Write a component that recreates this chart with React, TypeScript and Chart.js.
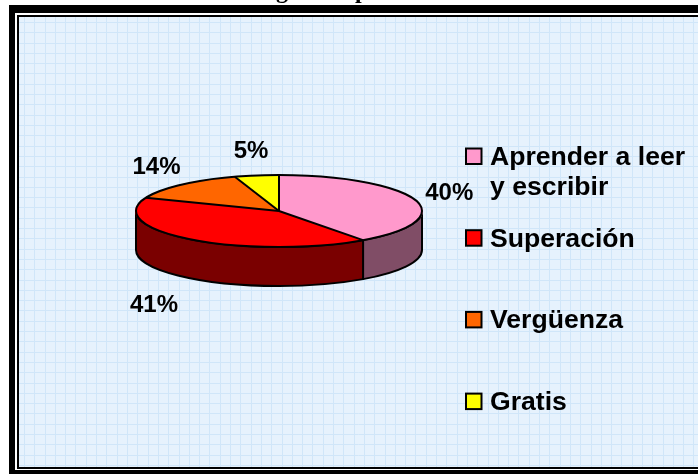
import React, { useEffect, useRef } from "react";
import { Chart, registerables } from "chart.js";

Chart.register(...registerables);

const categories = ["Aprender a leer y escribir", "Superación", "Vergüenza", "Gratis"];
const values = [40, 41, 14, 5];
const topColors = ["#FF99CC", "#FF0000", "#FF6600", "#FFFF00"];
const sideColors = ["#804D66", "#7A0000", "#803300", "#808000"];

const W = 698;
const H = 474;
const CX = 279;
const CY = 211;
const RX = 143;
const RY = 36;
const DEPTH = 39;

const framePlugin = {
  id: "frame",
  beforeDraw(chart: any) {
    const ctx = chart.ctx as CanvasRenderingContext2D;
    ctx.save();
    ctx.fillStyle = "#ffffff";
    ctx.fillRect(0, 0, W, H);
    ctx.fillStyle = "#000000";
    ctx.fillRect(9, 5, W - 9, H - 5);
    ctx.fillStyle = "#ffffff";
    ctx.fillRect(15, 13, W - 15, 457);
    ctx.fillStyle = "#000000";
    ctx.fillRect(17, 15, W - 17, 454);
    ctx.fillStyle = "#E6F2FD";
    ctx.fillRect(19, 17, W - 19, 450);
    ctx.beginPath();
    ctx.rect(19, 17, W - 19, 450);
    ctx.clip();
    ctx.strokeStyle = "#D0E6F9";
    ctx.lineWidth = 1;
    const step = 10.3;
    for (let x = 24; x < W; x += step) {
      const px = Math.round(x) + 0.5;
      ctx.beginPath();
      ctx.moveTo(px, 17);
      ctx.lineTo(px, 467);
      ctx.stroke();
    }
    for (let y = 22; y < 467; y += step) {
      const py = Math.round(y) + 0.5;
      ctx.beginPath();
      ctx.moveTo(19, py);
      ctx.lineTo(W, py);
      ctx.stroke();
    }
    ctx.restore();
    // partially visible title (cut off at the top of the picture)
    ctx.save();
    ctx.fillStyle = "#000000";
    ctx.font = 'bold 24px "Liberation Serif"';
    ctx.textBaseline = "alphabetic";
    ctx.fillText("g", 276, -2);
    ctx.fillText("p", 355, -2);
    ctx.restore();
  },
};

function sideAndTransform(chart: any) {
  const ctx = chart.ctx as CanvasRenderingContext2D;
  const meta = chart.getDatasetMeta(0);
  ctx.save();
  ctx.lineWidth = 2;
  ctx.lineJoin = "round";
  ctx.strokeStyle = "#000000";
  meta.data.forEach((arc: any, i: number) => {
    const a0 = Math.max(arc.startAngle, 0);
    const a1 = Math.min(arc.endAngle, Math.PI);
    if (a1 <= a0) return;
    ctx.beginPath();
    ctx.ellipse(CX, CY, RX, RY, 0, a0, a1, false);
    ctx.lineTo(CX + RX * Math.cos(a1), CY + DEPTH + RY * Math.sin(a1));
    ctx.ellipse(CX, CY + DEPTH, RX, RY, 0, a1, a0, true);
    ctx.closePath();
    ctx.fillStyle = sideColors[i];
    ctx.fill();
    ctx.stroke();
  });
  ctx.restore();
  ctx.save();
  ctx.translate(0, CY);
  ctx.scale(1, RY / RX);
  ctx.translate(0, -CY);
}

const pie3dPlugin = {
  id: "pie3d",
  beforeDatasetsDraw(chart: any) {
    sideAndTransform(chart);
  },
  afterDatasetsDraw(chart: any) {
    const ctx = chart.ctx as CanvasRenderingContext2D;
    ctx.restore();
    const meta = chart.getDatasetMeta(0);
    const data = chart.data.datasets[0].data as number[];
    const total = data.reduce((s, v) => s + v, 0);
    ctx.save();
    ctx.lineWidth = 2;
    ctx.lineJoin = "round";
    ctx.strokeStyle = "#000000";
    ctx.beginPath();
    ctx.ellipse(CX, CY, RX, RY, 0, 0, Math.PI * 2);
    ctx.stroke();
    meta.data.forEach((arc: any) => {
      ctx.beginPath();
      ctx.moveTo(CX, CY);
      ctx.lineTo(CX + RX * Math.cos(arc.startAngle), CY + RY * Math.sin(arc.startAngle));
      ctx.stroke();
    });
    // percentage labels
    ctx.fillStyle = "#000000";
    ctx.font = 'bold 24px "Liberation Sans", Arial, sans-serif';
    ctx.textAlign = "center";
    ctx.textBaseline = "middle";
    meta.data.forEach((arc: any, i: number) => {
      const m = (arc.startAngle + arc.endAngle) / 2;
      const front = Math.sin(m) > 0;
      const dx = front ? 61 : 36;
      const dy = front ? 33 : 25;
      const x = CX + (RX + dx) * Math.cos(m);
      const y = CY + (RY + dy) * Math.sin(m) + (front ? DEPTH : 0);
      const pct = Math.round((data[i] / total) * 100) + "%";
      ctx.fillText(pct, x, y + 1);
    });
    ctx.restore();
  },
};

const legendPlugin = {
  id: "customLegend",
  afterDraw(chart: any) {
    const ctx = chart.ctx as CanvasRenderingContext2D;
    const labels = chart.data.labels as string[];
    const colors = chart.data.datasets[0].backgroundColor as string[];
    ctx.save();
    ctx.font = 'bold 26.6px "Liberation Sans", Arial, sans-serif';
    ctx.textBaseline = "alphabetic";
    ctx.textAlign = "left";
    const maxW = 205;
    labels.forEach((label, i) => {
      const base = 165 + i * 81.7;
      ctx.fillStyle = colors[i];
      ctx.fillRect(466, base - 16.5, 15.5, 15.5);
      ctx.strokeStyle = "#000000";
      ctx.lineWidth = 2;
      ctx.strokeRect(466, base - 16.5, 15.5, 15.5);
      // wrap
      const words = label.split(" ");
      const lines: string[] = [];
      let cur = "";
      words.forEach((w) => {
        const t = cur ? cur + " " + w : w;
        if (ctx.measureText(t).width > maxW && cur) {
          lines.push(cur);
          cur = w;
        } else cur = t;
      });
      if (cur) lines.push(cur);
      ctx.fillStyle = "#000000";
      lines.forEach((ln, j) => ctx.fillText(ln, 490, base + j * 30));
    });
    ctx.restore();
  },
};

export default function App() {
  const ref = useRef<HTMLCanvasElement>(null);
  useEffect(() => {
    document.body.style.margin = "0";
    const R = RX + 1;
    const chart = new Chart(ref.current as HTMLCanvasElement, {
      type: "pie",
      data: {
        labels: categories,
        datasets: [
          {
            data: values,
            backgroundColor: topColors,
            borderWidth: 0,
          },
        ],
      },
      options: {
        animation: false,
        responsive: false,
        devicePixelRatio: 1,
        events: [],
        layout: {
          padding: {
            left: CX - R,
            right: W - CX - R,
            top: CY - R,
            bottom: H - CY - R,
          },
        },
        plugins: {
          legend: { display: false },
          tooltip: { enabled: false },
          title: { display: false },
        },
      },
      plugins: [framePlugin, pie3dPlugin, legendPlugin],
    });
    return () => chart.destroy();
  }, []);
  return (
    <canvas
      ref={ref}
      width={W}
      height={H}
      style={{ display: "block", width: W, height: H }}
    />
  );
}
